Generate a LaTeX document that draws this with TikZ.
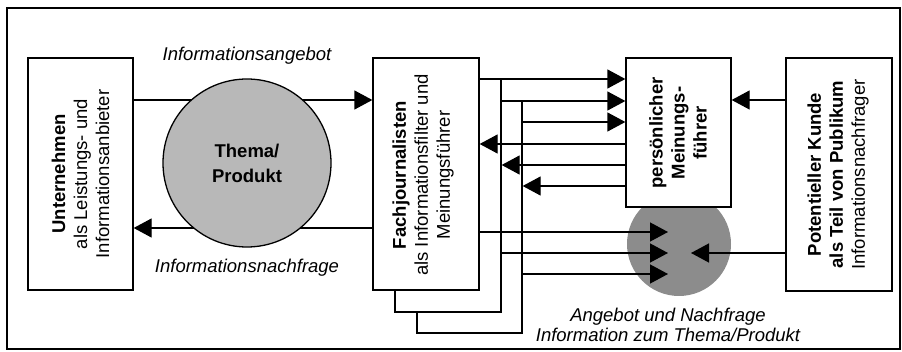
\documentclass[tikz,border=0pt]{standalone}
\usepackage{fontspec}
\setmainfont{Liberation Sans}
\usetikzlibrary{arrows.meta,calc}
\begin{document}
\begin{tikzpicture}[x=1pt,y=-1pt, line width=1.3pt,
  box/.style={draw, fill=white, rectangle, inner sep=0pt},
  arr/.style={-{Triangle[length=18pt,width=19pt]}},
  lbl/.style={font=\itshape\fontsize{18.5}{20}\selectfont, inner sep=0pt},
  txt/.style={rotate=90, align=center, inner sep=0pt, font=\fontsize{18.5}{22}\selectfont}]
\useasboundingbox (0,0) rectangle (902,352);
\node[draw, line width=1.5pt, minimum width=893pt, minimum height=341pt, inner sep=0pt] (frame) at (453.5,178.5) {};
% second circle (behind boxes)
\node[circle, fill=black!45, minimum size=104pt, inner sep=0pt] (circ2) at (679,244) {};
% boxes
\node[box, minimum width=105pt, minimum height=232pt] (unt) at (80.5,174) {};
\node[box, minimum width=105pt, minimum height=232pt] (fach3) at (469.5,217) {};
\node[box, minimum width=106pt, minimum height=233pt] (fach2) at (448,195.5) {};
\node[box, minimum width=106pt, minimum height=232pt] (fach) at (426,174) {};
\node[box, minimum width=105pt, minimum height=149pt] (pers) at (678.5,132.5) {};
\node[box, minimum width=106pt, minimum height=233pt] (pot) at (839,174.5) {};
% texts in boxes
\node[txt] (untt) at (unt.center) {\textbf{Unternehmen}\\als Leistungs- und\\Informationsanbieter};
\node[txt] (facht) at (423,175) {\textbf{Fachjournalisten}\\als Informationsfilter und\\Meinungsführer};
\node[txt] (perst) at (678,133) {\textbf{persönlicher}\\\textbf{Meinungs-}\\\textbf{führer}};
\node[txt] (pott) at (838,174.5) {\textbf{Potentieller Kunde}\\\textbf{als Teil von Publikum}\\Informationsnachfrager};
% connectors Unternehmen <-> Fachjournalisten
\draw[arr] (unt.east |- 0,100) -- (fach.west |- 0,100);
\draw[arr] (fach.west |- 0,228) -- (unt.east |- 0,228);
\node[circle, draw, fill=black!28, minimum size=168pt, inner sep=0pt, align=center,
  font=\bfseries\fontsize{18.5}{25}\selectfont] (thema) at (247,163) {Thema/\\Produkt};
% connectors Fachjournalisten <-> persönlicher
\draw[arr] (fach.east |- 0,79) -- (pers.west |- 0,79);
\draw[arr] (fach2.east |- 0,101) -- (pers.west |- 0,101);
\draw[arr] (fach3.east |- 0,122) -- (pers.west |- 0,122);
\draw[arr] (pers.west |- 0,144) -- (fach.east |- 0,144);
\draw[arr] (pers.west |- 0,165) -- (fach2.east |- 0,165);
\draw[arr] (pers.west |- 0,186) -- (fach3.east |- 0,186);
% connectors to the information circle
\coordinate (t1) at (668,232);
\coordinate (t2) at (668,253);
\coordinate (t3) at (668,274);
\coordinate (t4) at (691,253);
\draw[arr] (fach.east |- t1) -- (t1);
\draw[arr] (fach2.east |- t2) -- (t2);
\draw[arr] (fach3.east |- t3) -- (t3);
\draw[arr] (pot.west |- t4) -- (t4);
\draw[arr] (pot.west |- 0,100) -- (pers.east |- 0,100);
% labels
\node[lbl] (angebot) at (247,56) {Informationsangebot};
\node[lbl] (nachfrage) at (247,268) {Informationsnachfrage};
\node[lbl, align=center] (info) at (668,325) {Angebot und Nachfrage\\Information zum Thema/Produkt};
\end{tikzpicture}
\end{document}
